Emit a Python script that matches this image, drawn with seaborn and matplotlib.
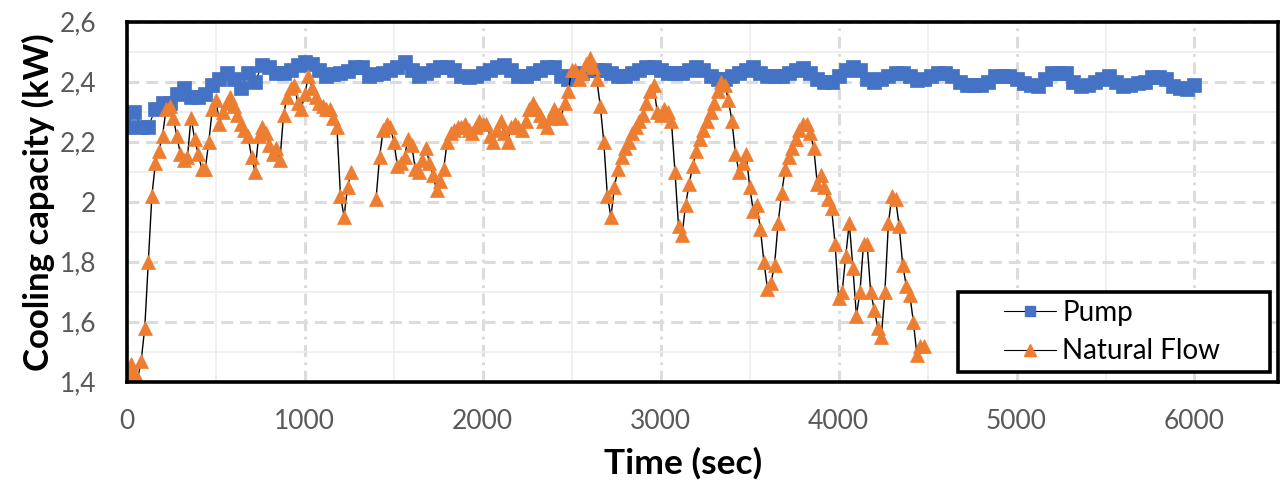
import numpy as np
import pandas as pd
import matplotlib
matplotlib.use("Agg")
import matplotlib.pyplot as plt
from matplotlib.lines import Line2D
from matplotlib.patches import Rectangle
from matplotlib.ticker import MultipleLocator, FixedLocator, FixedFormatter
import seaborn as sns

# ---------------- data ----------------
pump_step = 40  # seconds between pump samples
pump_values = [
    2.25, 2.30, 2.25, 2.25, 2.31, 2.33, 2.33, 2.36, 2.38, 2.35,
    2.35, 2.36, 2.39, 2.41, 2.43, 2.41, 2.38, 2.43, 2.40, 2.455,
    2.45, 2.43, 2.43, 2.44, 2.455, 2.465, 2.46, 2.44, 2.42, 2.425,
    2.43, 2.435, 2.45, 2.45, 2.42, 2.425, 2.43, 2.44, 2.45, 2.465,
    2.44, 2.42, 2.43, 2.44, 2.45, 2.45, 2.44, 2.42, 2.415, 2.42,
    2.43, 2.44, 2.45, 2.455, 2.44, 2.42, 2.42, 2.43, 2.44, 2.45,
    2.45, 2.42, 2.41, 2.42, 2.43, 2.44, 2.44, 2.44, 2.43, 2.42,
    2.42, 2.43, 2.44, 2.45, 2.45, 2.44, 2.43, 2.43, 2.43, 2.44,
    2.45, 2.44, 2.42, 2.41, 2.41, 2.42, 2.43, 2.44, 2.45, 2.43,
    2.42, 2.42, 2.42, 2.43, 2.44, 2.445, 2.43, 2.41, 2.40, 2.40,
    2.42, 2.44, 2.45, 2.44, 2.41, 2.40, 2.41, 2.42, 2.43, 2.43,
    2.42, 2.405, 2.41, 2.42, 2.43, 2.43, 2.42, 2.40, 2.39, 2.39,
    2.39, 2.40, 2.42, 2.42, 2.42, 2.41, 2.395, 2.39, 2.385, 2.41,
    2.43, 2.43, 2.43, 2.40, 2.385, 2.39, 2.40, 2.41, 2.42, 2.40,
    2.385, 2.39, 2.395, 2.40, 2.415, 2.415, 2.41, 2.385, 2.38, 2.375,
    2.39,
]

natural_step = 20  # seconds between natural-flow samples
nan = np.nan
natural_values = [
    1.44, 1.46, 1.43, 1.41, 1.47, 1.58, 1.80, 2.02, 2.13, 2.17,
    2.22, 2.31, 2.32, 2.28, 2.22, 2.16, 2.14, 2.15, 2.28, 2.21,
    2.16, 2.11, 2.11, 2.20, 2.31, 2.34, 2.26, 2.30, 2.33, 2.35,
    2.32, 2.29, 2.26, 2.24, 2.22, 2.15, 2.10, 2.22, 2.25, 2.23,
    2.19, 2.16, 2.18, 2.14, 2.29, 2.35, 2.38, 2.39, 2.33, 2.31,
    2.36, 2.42, 2.38, 2.35, 2.33, 2.32, 2.31, 2.31, 2.28, 2.25,
    2.02, 1.95, 2.05, 2.10, nan, nan, nan, nan, nan, nan,
    2.01, 2.15, 2.24, 2.26, 2.25, 2.20, 2.12, 2.13, 2.15, 2.21,
    2.19, 2.11, 2.10, 2.14, 2.18, 2.13, 2.09, 2.04, 2.07, 2.11,
    2.20, 2.23, 2.24, 2.25, 2.25, 2.26, 2.24, 2.23, 2.25, 2.27,
    2.26, 2.26, 2.22, 2.20, 2.24, 2.27, 2.23, 2.20, 2.25, 2.26,
    2.25, 2.24, 2.27, 2.31, 2.33, 2.31, 2.29, 2.27, 2.25, 2.28,
    2.31, 2.29, 2.28, 2.33, 2.37, 2.44, 2.44, 2.41, 2.43, 2.46,
    2.48, 2.45, 2.41, 2.32, 2.20, 2.02, 1.95, 2.05, 2.11, 2.15,
    2.18, 2.20, 2.23, 2.25, 2.27, 2.29, 2.33, 2.37, 2.39, 2.30,
    2.29, 2.31, 2.30, 2.27, 2.10, 1.92, 1.89, 1.99, 2.06, 2.12,
    2.17, 2.21, 2.24, 2.27, 2.30, 2.33, 2.37, 2.40, 2.39, 2.34,
    2.27, 2.16, 2.10, 2.13, 2.16, 2.05, 1.97, 1.99, 1.91, 1.80,
    1.71, 1.73, 1.79, 1.93, 2.03, 2.11, 2.15, 2.18, 2.21, 2.24,
    2.26, 2.26, 2.23, 2.18, 2.06, 2.09, 2.05, 2.01, 1.98, 1.86,
    1.68, 1.70, 1.82, 1.93, 1.78, 1.62, 1.70, 1.86, 1.86, 1.70,
    1.64, 1.58, 1.55, 1.70, 1.93, 2.02, 2.01, 1.92, 1.79, 1.72,
    1.69, 1.60, 1.49, 1.52, 1.52,
]

series_names = ["Pump", "Natural Flow"]
x_ticks = [0, 1000, 2000, 3000, 4000, 5000, 6000]
y_ticks = [1.4, 1.6, 1.8, 2.0, 2.2, 2.4, 2.6]
y_tick_labels = ["1,4", "1,6", "1,8", "2", "2,2", "2,4", "2,6"]
x_label = "Time (sec)"
y_label = "Cooling capacity (kW)"

# ---------------- frames ----------------
pump_df = pd.DataFrame({
    "t": np.arange(len(pump_values)) * pump_step,
    "v": pump_values,
})
nat_df = pd.DataFrame({
    "t": np.arange(len(natural_values)) * natural_step,
    "v": natural_values,
})
nat_df["seg"] = nat_df["v"].isna().cumsum()
nat_df = nat_df.dropna()

# ---------------- style ----------------
sns.set_theme(style="white")
plt.rcParams["font.family"] = ["Lato", "DejaVu Sans"]
plt.rcParams["lines.scale_dashes"] = False

BLUE = "#4472C4"
ORANGE = "#ED7D31"
TICK_GRAY = "#595959"

fig = plt.figure(figsize=(12.8, 4.83), dpi=100)
ax = fig.add_axes([0.0992, 0.2097, 0.8993, 0.7454])

sns.lineplot(data=pump_df, x="t", y="v", ax=ax, estimator=None, sort=False,
             color="black", lw=0.8, marker="s", markersize=10.5,
             markerfacecolor=BLUE, markeredgecolor=BLUE, markeredgewidth=0.5,
             zorder=3)
sns.lineplot(data=nat_df, x="t", y="v", units="seg", ax=ax, estimator=None,
             sort=False, color="black", lw=1.0, marker="^", markersize=10.5,
             markerfacecolor=ORANGE, markeredgecolor=ORANGE,
             markeredgewidth=0.5, zorder=4)

ax.set_xlim(0, 6470)
ax.set_ylim(1.4, 2.6)

ax.xaxis.set_major_locator(FixedLocator(x_ticks))
ax.xaxis.set_minor_locator(MultipleLocator(500))
ax.yaxis.set_major_locator(FixedLocator(y_ticks))
ax.yaxis.set_major_formatter(FixedFormatter(y_tick_labels))
ax.yaxis.set_minor_locator(MultipleLocator(0.1))

ax.grid(which="minor", color="#EDEDED", lw=1.2, ls="-", zorder=0)
ax.grid(which="major", axis="y", color="#DCDCDC", lw=2.2,
        ls=(0, (8.5, 5.0)), zorder=1)
ax.grid(which="major", axis="x", color="#DCDCDC", lw=2.2,
        ls=(0, (8.5, 4.0, 2.0, 4.0)), zorder=1)
ax.set_axisbelow(True)

ax.tick_params(which="both", length=0)
ax.tick_params(axis="y", pad=22, labelsize=19, labelcolor=TICK_GRAY)
ax.tick_params(axis="x", pad=20, labelsize=19, labelcolor=TICK_GRAY)

for sp in ax.spines.values():
    sp.set_visible(True)
    sp.set_color("black")
    sp.set_linewidth(2.6)
    sp.set_zorder(5)

ax.set_xlabel(x_label, fontsize=25.5, fontweight="bold", color="black")
ax.set_ylabel(y_label, fontsize=25, fontweight="bold", color="black")
ax.xaxis.set_label_coords(0.483, -0.226)
ax.yaxis.set_label_coords(-0.077, 0.5)
ax.xaxis.label.set_va("center")
ax.yaxis.label.set_va("center")

# legend box (Excel style, wide side padding)
box = Rectangle((0.722, 0.027), 0.271, 0.222, transform=ax.transAxes,
                facecolor="white", edgecolor="black", lw=2.6, zorder=6)
ax.add_patch(box)
handles = [
    Line2D([], [], color="black", lw=0.8, marker="s", markersize=6.5,
           markerfacecolor=BLUE, markeredgecolor=BLUE),
    Line2D([], [], color="black", lw=0.8, marker="^", markersize=8.5,
           markerfacecolor=ORANGE, markeredgecolor=ORANGE),
]
leg = ax.legend(handles, series_names, loc="center left",
                bbox_to_anchor=(0.762, 0.138), fontsize=20, frameon=False,
                handlelength=1.85, handletextpad=0.25, borderpad=0.0,
                labelspacing=0.45, borderaxespad=0.0)
leg.set_zorder(7)
for txt in leg.get_texts():
    txt.set_color("black")

fig.savefig("out.png", dpi=100)
